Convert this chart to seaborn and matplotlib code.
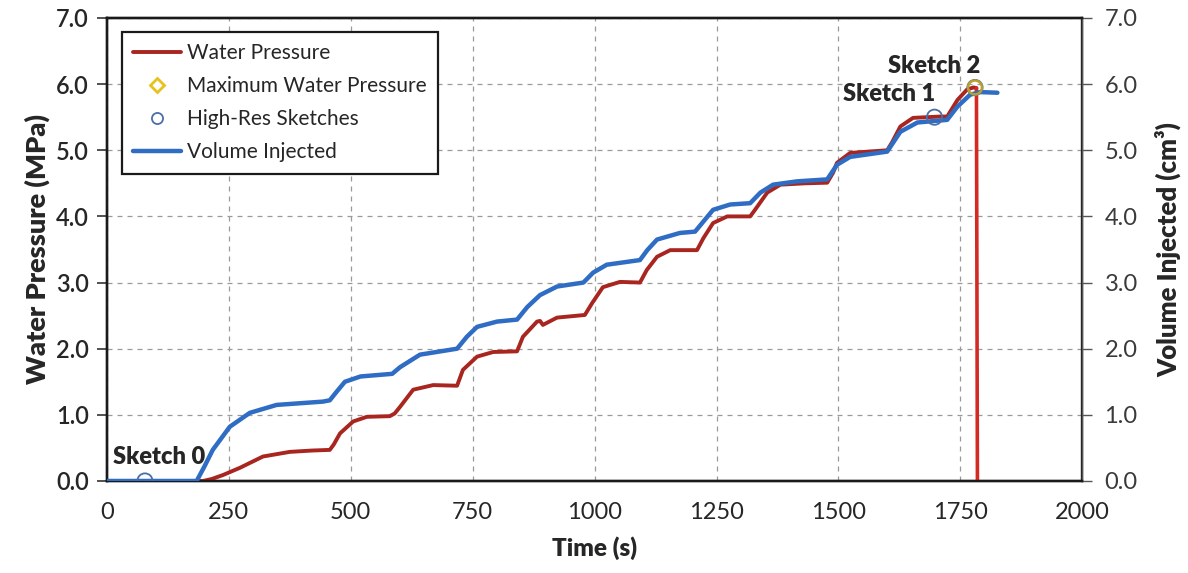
import numpy as np
import pandas as pd
import matplotlib
matplotlib.use("Agg")
import matplotlib.pyplot as plt
from matplotlib.lines import Line2D
import seaborn as sns

# Water pressure record (s, MPa)
time_pressure = [0, 100, 197, 215, 238, 273, 320, 375, 420, 457, 465, 478, 505, 533, 580,
                 590, 601, 628, 669, 718, 730, 759, 792, 841, 853, 882, 888, 894, 923,
                 980, 995, 1017, 1052, 1093, 1107, 1128, 1155, 1210, 1223, 1243,
                 1272, 1319, 1329, 1354, 1381, 1430, 1477, 1489, 1497, 1524, 1600,
                 1610, 1627, 1653, 1709, 1723, 1744, 1764, 1777, 1783, 1785]
pressure = [0.0, 0.0, 0.0, 0.03, 0.09, 0.20, 0.37, 0.44, 0.46, 0.47, 0.55, 0.72, 0.90, 0.97, 0.98,
            1.02, 1.12, 1.38, 1.45, 1.44, 1.68, 1.88, 1.95, 1.96, 2.18, 2.41, 2.42, 2.36, 2.47,
            2.51, 2.69, 2.93, 3.01, 3.00, 3.19, 3.39, 3.49, 3.49, 3.67, 3.90,
            4.00, 4.00, 4.10, 4.36, 4.48, 4.50, 4.51, 4.66, 4.81, 4.96, 5.00,
            5.12, 5.36, 5.49, 5.51, 5.51, 5.76, 5.92, 5.95, 5.94, 0.0]

# Injected volume record (s, cm^3)
time_volume = [0, 100, 184, 200, 217, 252, 293, 348, 443, 457, 470, 488, 520, 585, 601, 642,
               718, 738, 759, 800, 841, 862, 888, 923, 977, 997, 1025, 1093, 1108,
               1128, 1175, 1206, 1243, 1278, 1319, 1340, 1366, 1415, 1477, 1497,
               1524, 1600, 1627, 1662, 1723, 1744, 1770, 1791, 1826]
volume = [0.0, 0.0, 0.0, 0.22, 0.47, 0.82, 1.03, 1.15, 1.20, 1.22, 1.34, 1.50, 1.58, 1.62, 1.72, 1.91,
          2.00, 2.18, 2.33, 2.41, 2.44, 2.63, 2.81, 2.94, 3.00, 3.15, 3.27, 3.34, 3.49,
          3.65, 3.75, 3.77, 4.10, 4.18, 4.20, 4.36, 4.48, 4.53, 4.56, 4.78,
          4.90, 4.98, 5.28, 5.42, 5.46, 5.66, 5.84, 5.88, 5.87]

# High-resolution sketch instants
sketch_names = ["Sketch 0", "Sketch 1", "Sketch 2"]
sketch_time = [78, 1697, 1780]
sketch_value = [0.0, 5.50, 5.95]

# Peak pressure
max_time = [1780]
max_pressure = [5.95]

x_ticks = [0, 250, 500, 750, 1000, 1250, 1500, 1750, 2000]
y_ticks = [0, 1, 2, 3, 4, 5, 6, 7]

sns.set_theme(style="white")
plt.rcParams["font.family"] = ["Lato", "DejaVu Sans"]

df_p = pd.DataFrame({"t": time_pressure, "p": pressure})
df_v = pd.DataFrame({"t": time_volume, "v": volume})

fig = plt.figure(figsize=(11.88, 5.73), dpi=100)
ax = fig.add_axes([0.090, 0.1606, 0.821, 0.808])
ax2 = ax.twinx()

red = "#A8261F"
blue = "#2F6DC4"
txt = "#262626"

# Pressure trace, with the sharp drop drawn in a brighter red
sns.lineplot(data=df_p.iloc[:-1], x="t", y="p", ax=ax, color=red, lw=2.8,
             sort=False, zorder=3)
sns.lineplot(data=df_p.iloc[-2:], x="t", y="p", ax=ax, color="#D42A24", lw=2.6,
             sort=False, zorder=3)
sns.lineplot(data=df_v, x="t", y="v", ax=ax2, color=blue, lw=3.2, sort=False, zorder=3)

sns.scatterplot(x=max_time, y=max_pressure, ax=ax2, marker="o", s=100,
                facecolor="none", edgecolor="#B8A030", linewidth=1.8, zorder=5)
sns.scatterplot(x=sketch_time, y=sketch_value, ax=ax2, marker="o", s=120,
                facecolor="none", edgecolor="#4A6FA8", linewidth=1.3, zorder=4)

lab_kw = dict(fontsize=17, fontweight="heavy", color=txt)
ax2.text(12, 0.25, sketch_names[0], **lab_kw)
ax2.text(1510, 5.75, sketch_names[1], **lab_kw)
ax2.text(1602, 6.17, sketch_names[2], **lab_kw)

for a in (ax, ax2):
    a.set_xlim(0, 2000)
    a.set_ylim(0, 7)
    a.set_yticks(y_ticks)
    a.set_yticklabels([f"{v:.1f}" for v in y_ticks])
    a.set_xlabel("")
ax.tick_params(axis="y", labelsize=17, labelcolor=txt, length=7, width=1.2,
               direction="out", color="#333333", pad=6)
ax2.tick_params(axis="y", labelsize=17, labelcolor="#3a3a3a", length=7, width=1.0,
                direction="out", color="#555555", pad=9)
for lbl in ax.get_yticklabels():
    lbl.set_fontweight("semibold")

ax.set_xticks(x_ticks)
ax.set_xticklabels([str(v) for v in x_ticks])
ax.tick_params(axis="x", labelsize=17, labelcolor=txt, length=8, width=1.6,
               direction="out", color="#222222", pad=7)
ax.grid(True, linestyle=(0, (4, 4)), color="#9a9a9a", lw=0.9)
ax.set_axisbelow(True)

ax.set_xlabel("Time (s)", fontsize=17.5, fontweight="heavy", color=txt, labelpad=10)
ax.set_ylabel("Water Pressure (MPa)", fontsize=19.5, fontweight="heavy", color=txt,
              labelpad=4)
ax2.set_ylabel("Volume Injected (cm³)", fontsize=18.5, fontweight="heavy", color=txt,
               labelpad=12)

for a in (ax, ax2):
    for s in a.spines.values():
        s.set_color("#1a1a1a")
        s.set_linewidth(1.7)
ax2.spines["right"].set_color("#555555")
ax2.spines["right"].set_linewidth(1.0)

handles = [
    Line2D([], [], color=red, lw=2.8),
    Line2D([], [], marker="D", ls="none", markerfacecolor="none",
           markeredgecolor="#E8C21C", markeredgewidth=2.0, markersize=7),
    Line2D([], [], marker="o", ls="none", markerfacecolor="none",
           markeredgecolor="#4A6FA8", markeredgewidth=1.3, markersize=8),
    Line2D([], [], color=blue, lw=3.2),
]
labels = ["Water Pressure", "Maximum Water Pressure", "High-Res Sketches",
          "Volume Injected"]
leg = ax2.legend(handles, labels, loc="upper left", bbox_to_anchor=(0.015, 0.97),
                 fontsize=15, frameon=True, fancybox=False, edgecolor="#1a1a1a",
                 framealpha=1, handlelength=2.3, handletextpad=0.3,
                 borderpad=0.55, labelspacing=0.62, borderaxespad=0)
leg.get_frame().set_linewidth(1.6)
for t in leg.get_texts():
    t.set_color(txt)

fig.savefig("out.png", dpi=100)
